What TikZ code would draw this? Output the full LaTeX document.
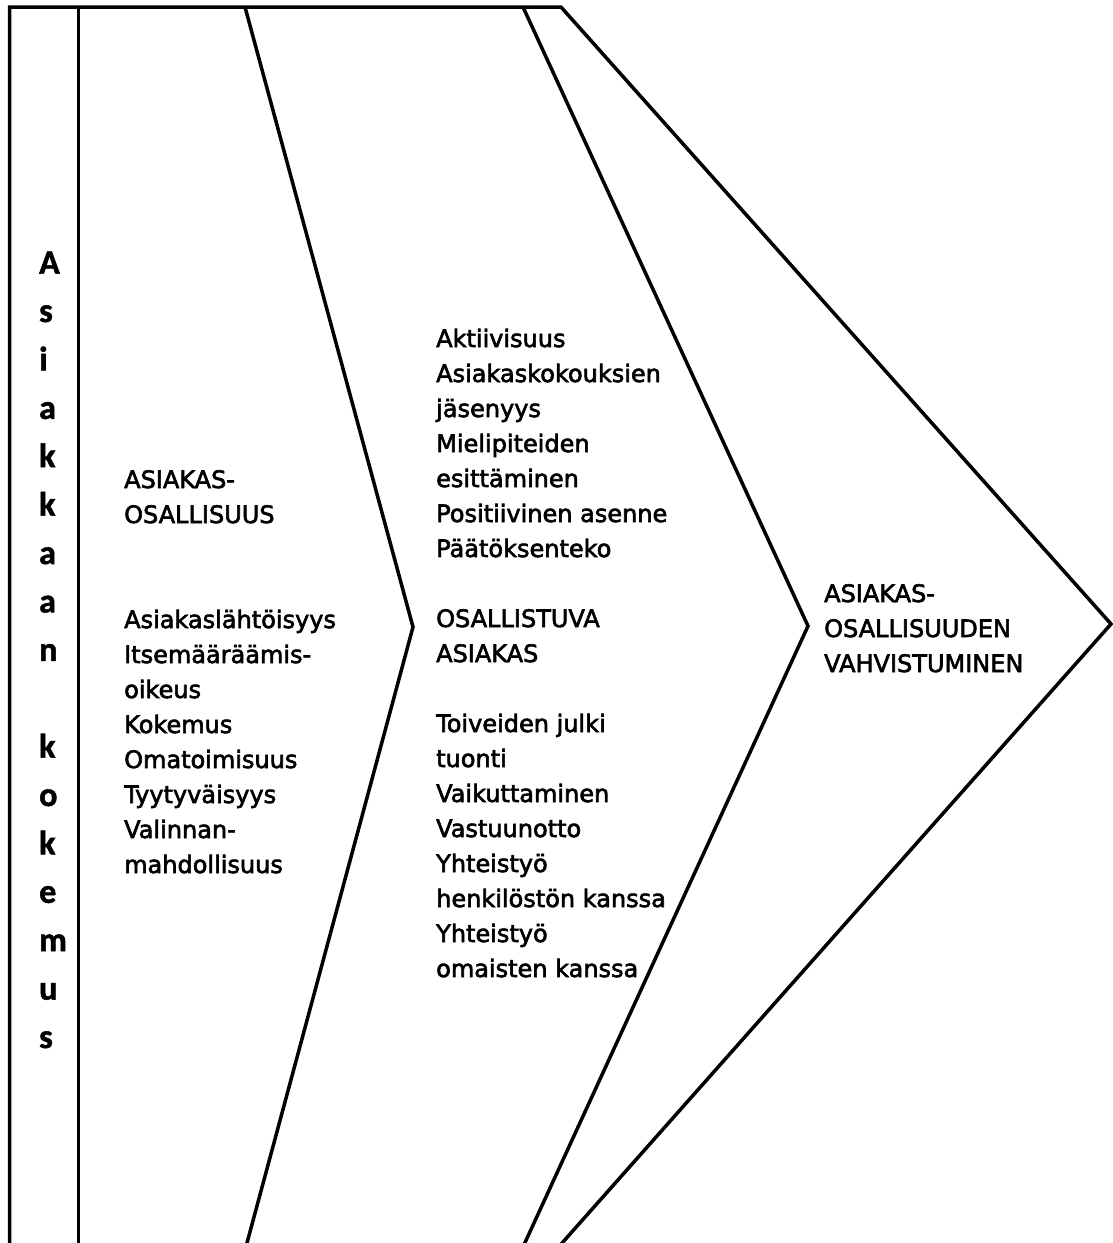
\documentclass[tikz,border=0pt]{standalone}
\usepackage{fontspec}
\setmainfont{DejaVu Sans}
\newfontfamily\bodyfont{DejaVu Sans}[FakeBold=2.5]
\newfontfamily\sidefont{Carlito}[BoldFeatures={FakeBold=1.5}]
\begin{document}
\begin{tikzpicture}[x=1pt,y=-1pt,
  outline/.style={line width=3.5pt,line join=miter,black},
  bodytext/.style={anchor=base west,align=left,inner sep=0pt,
    font=\bodyfont\fontsize{24}{35}\selectfont},
  sidetext/.style={anchor=base west,align=left,inner sep=0pt,
    font=\sidefont\bfseries\fontsize{34}{48.4}\selectfont}]
\useasboundingbox (0,0) rectangle (1113,1243);
\clip (0,0) rectangle (1113,1243);
% outer frame and arrow
\draw[outline] (9.5,1260) -- (9.5,7) -- (561,7) -- (1111,624) -- (547,1260);
% divider of side column
\draw[outline] (78.5,7) -- (78.5,1260);
% chevrons
\draw[outline] (245,7) -- (413,627) -- (242.4,1260);
\draw[outline] (523,7) -- (808,626) -- (517,1260);
% side text (anchored at the baseline of its last line)
\node[sidetext] (side) at (39,1048) {A\\s\\i\\a\\k\\k\\a\\a\\n\\\mbox{}\\k\\o\\k\\e\\m\\u\\s};
% first column
\node[bodytext] (col1) at (124,873) {ASIAKAS-\\OSALLISUUS\\\mbox{}\\\mbox{}\\Asiakasl\"aht\"oisyys\\Itsem\"a\"ar\"a\"amis-\\oikeus\\Kokemus\\Omatoimisuus\\Tyytyv\"aisyys\\Valinnan-\\mahdollisuus};
% second column
\node[bodytext] (col2) at (436,977) {Aktiivisuus\\Asiakaskokouksien\\j\"asenyys\\Mielipiteiden\\esitt\"aminen\\Positiivinen asenne\\P\"a\"at\"oksenteko\\\mbox{}\\OSALLISTUVA\\ASIAKAS\\\mbox{}\\Toiveiden julki\\tuonti\\Vaikuttaminen\\Vastuunotto\\Yhteisty\"o\\henkil\"ost\"on kanssa\\Yhteisty\"o\\omaisten kanssa};
% third column
\node[bodytext] (col3) at (824,672) {ASIAKAS-\\OSALLISUUDEN\\VAHVISTUMINEN};
\end{tikzpicture}
\end{document}
